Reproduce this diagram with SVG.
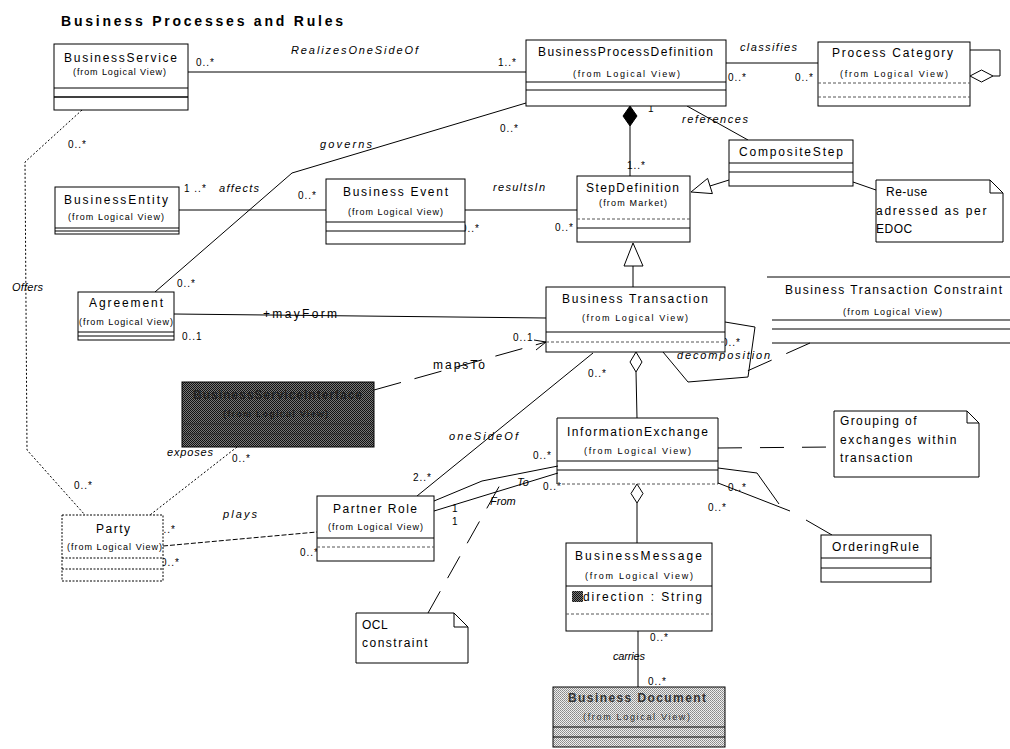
<svg xmlns="http://www.w3.org/2000/svg" width="1010" height="749" viewBox="0 0 1010 749">
  <style>
    .box { fill: #fff; stroke: #000; stroke-width: 1; }
    .sep { stroke: #000; stroke-width: 1; fill: none; }
    .dsep { stroke: #555; stroke-width: 1; stroke-dasharray: 3 2; fill: none; }
    .line { stroke: #000; stroke-width: 1; fill: none; }
    .dot { stroke: #000; stroke-width: 1; fill: none; stroke-dasharray: 2 2; }
    .dash { stroke: #000; stroke-width: 1; fill: none; stroke-dasharray: 5 2; }
    .anchor { stroke: #000; stroke-width: 1; fill: none; stroke-dasharray: 24 18; }
    text { font-family: "Liberation Sans", Arial, sans-serif; fill: #000; }
    .title { font-size: 14px; font-weight: bold; }
    .name { font-size: 12px; }
    .from { font-size: 9px; }
    .role { font-size: 11px; font-style: italic; }
    .mult { font-size: 10px; letter-spacing: 1px; }
    .note { font-size: 12px; letter-spacing: 0.5px; }
  </style>
  <defs>
    <pattern id="hatchDark" width="2" height="2" patternUnits="userSpaceOnUse">
      <rect width="2" height="2" fill="#777"/>
      <rect width="1" height="1" fill="#111"/>
      <rect x="1" y="1" width="1" height="1" fill="#111"/>
    </pattern>
    <pattern id="hatchLight" width="2" height="2" patternUnits="userSpaceOnUse">
      <rect width="2" height="2" fill="#eee"/>
      <rect width="1" height="1" fill="#888"/>
      <rect x="1" y="1" width="1" height="1" fill="#999"/>
    </pattern>
  </defs>

  <rect width="1010" height="749" fill="#fff"/>

  <text class="title" x="61" y="26" textLength="282" lengthAdjust="spacing">Business Processes and Rules</text>

  <!-- associations, generalizations and note anchors -->
  <g id="connectors">
    <line class="line" x1="188" y1="72" x2="526" y2="72"/>
    <line class="line" x1="726" y1="63" x2="818" y2="63"/>
    <polyline class="line" points="970,50 1000,50 1000,76 993,76"/>
    <polygon points="970,76 981.5,70 993,76 981.5,82" fill="#fff" stroke="#000"/>
    <line class="line" x1="630" y1="126" x2="630" y2="176"/>
    <polygon points="630,106 637,116 630,126 623,116" fill="#000" stroke="#000"/>
    <line class="line" x1="687" y1="106" x2="748" y2="140"/>
    <polyline class="line" points="526,103 292,173 155,292"/>
    <line class="line" x1="853" y1="182" x2="876" y2="190"/>
    <line class="line" x1="729" y1="180" x2="710" y2="186"/>
    <polygon points="691,192 707.6,178.4 712.4,193.6" fill="#fff" stroke="#000"/>
    <line class="line" x1="633" y1="266" x2="633" y2="287"/>
    <polygon points="633,243 624,266 643,266" fill="#fff" stroke="#000"/>
    <line class="line" x1="179" y1="210" x2="326" y2="210"/>
    <line class="line" x1="465" y1="210" x2="577" y2="210"/>
    <line class="line" x1="174" y1="314" x2="546" y2="318"/>
    <polyline class="line" points="725,322 755,327 748,377 688,382 663,352"/>
    <line class="anchor" x1="810" y1="343" x2="745" y2="372" style="stroke-dasharray:26 16"/>
    <line class="line" x1="374" y1="390" x2="546" y2="342" style="stroke-dasharray:28 14"/>
    <polyline class="line" points="534,340 546,342 536,350"/>
    <line class="dot" x1="237" y1="447" x2="150" y2="515"/>
    <polyline class="dot" points="82,110 25,162 27,450 85,515"/>
    <line class="line" x1="593" y1="353" x2="417" y2="496"/>
    <line class="line" x1="636" y1="372" x2="637" y2="418"/>
    <polygon points="636,352 642,362 636,372 630,362" fill="#fff" stroke="#000"/>
    <line class="anchor" x1="718" y1="448" x2="834" y2="447"/>
    <polyline class="line" points="434,501 482,481 558,466"/>
    <line class="line" x1="434" y1="511" x2="558" y2="473"/>
    <line class="line" x1="428" y1="613" x2="505" y2="476" style="stroke-dasharray:25 15"/>
    <line class="dash" x1="163" y1="546" x2="317" y2="532"/>
    <polyline class="line" points="718,468 757,473 779,504"/>
    <line class="line" x1="718" y1="483" x2="790" y2="511"/>
    <line class="line" x1="806" y1="520" x2="832" y2="535"/>
    <line class="line" x1="637" y1="503" x2="637" y2="543"/>
    <polygon points="637,484 643,493.5 637,503 631,493.5" fill="#fff" stroke="#000"/>
    <line class="line" x1="638" y1="631" x2="638" y2="687"/>
  </g>

  <!-- association labels and multiplicities -->
  <g id="labels">
    <text class="mult" x="196" y="66">0..*</text>
    <text class="role" x="291" y="54" textLength="127" lengthAdjust="spacing">RealizesOneSideOf</text>
    <text class="mult" x="498" y="66">1..*</text>
    <text class="role" x="740" y="51" textLength="57" lengthAdjust="spacing">classifies</text>
    <text class="mult" x="728" y="81">0..*</text>
    <text class="mult" x="795" y="81">0..*</text>
    <text class="mult" x="648" y="112">1</text>
    <text class="role" x="682" y="123" textLength="66" lengthAdjust="spacing">references</text>
    <text class="mult" x="500" y="132">0..*</text>
    <text class="role" x="320" y="148" textLength="52" lengthAdjust="spacing">governs</text>
    <text class="mult" x="68" y="148">0..*</text>
    <text class="mult" x="184" y="192">1 ..*</text>
    <text class="role" x="219" y="192" textLength="40" lengthAdjust="spacing">affects</text>
    <text class="mult" x="298" y="199">0..*</text>
    <text class="role" x="493" y="191" textLength="52" lengthAdjust="spacing">resultsIn</text>
    <text class="mult" x="461" y="232">0..*</text>
    <text class="mult" x="555" y="231">0..*</text>
    <text class="mult" x="627" y="169">1..*</text>
    <text class="role" x="12" y="291" textLength="31" lengthAdjust="spacing">Offers</text>
    <text class="mult" x="177" y="287">0..*</text>
    <text class="mult" x="182" y="340">0..1</text>
    <text class="name" x="263" y="318" textLength="74" lengthAdjust="spacing">+mayForm</text>
    <text class="mult" x="513" y="341">0..1</text>
    <text class="mult" x="671" y="346">0..*</text>
    <text class="mult" x="722" y="346">0..*</text>
    <text class="role" x="677" y="359" textLength="93" lengthAdjust="spacing">decomposition</text>
    <text class="name" x="433" y="369" textLength="52" lengthAdjust="spacing">mapsTo</text>
    <text class="mult" x="588" y="377">0..*</text>
    <text class="role" x="449" y="440" textLength="69" lengthAdjust="spacing">oneSideOf</text>
    <text class="role" x="167" y="456" textLength="46" lengthAdjust="spacing">exposes</text>
    <text class="mult" x="232" y="462">0..*</text>
    <text class="mult" x="74" y="489">0..*</text>
    <text class="mult" x="413" y="481">2..*</text>
    <text class="role" x="223" y="518" textLength="34" lengthAdjust="spacing">plays</text>
    <text class="mult" x="157" y="533">0..*</text>
    <text class="mult" x="161" y="566">0..*</text>
    <text class="mult" x="300" y="556">0..*</text>
    <text class="mult" x="452" y="512">1</text>
    <text class="mult" x="452" y="525">1</text>
    <text class="role" x="517" y="486">To</text>
    <text class="role" x="490" y="505">From</text>
    <text class="mult" x="533" y="459">0..*</text>
    <text class="mult" x="543" y="490">0..*</text>
    <text class="mult" x="728" y="491">0..*</text>
    <text class="mult" x="708" y="511">0..*</text>
    <text class="mult" x="650" y="641">0..*</text>
    <text class="role" x="613" y="660" textLength="32" lengthAdjust="spacing">carries</text>
    <text class="mult" x="648" y="685">0..*</text>
  </g>

  <g id="BusinessService">
    <rect class="box" x="54" y="44" width="134" height="66"/>
    <text class="name" x="64" y="62" textLength="113" lengthAdjust="spacing">BusinessService</text>
    <text class="from" x="73" y="75" textLength="93" lengthAdjust="spacing">(from Logical View)</text>
    <line class="sep" x1="54" y1="88" x2="188" y2="88"/>
    <line class="sep" x1="54" y1="97" x2="188" y2="97" style="stroke-width:1.5"/>
  </g>

  <g id="BusinessProcessDefinition">
    <rect class="box" x="526" y="40" width="200" height="66"/>
    <text class="name" x="538" y="56" textLength="175" lengthAdjust="spacing">BusinessProcessDefinition</text>
    <text class="from" x="573" y="77" textLength="107" lengthAdjust="spacing">(from Logical View)</text>
    <line class="sep" x1="526" y1="82" x2="726" y2="82"/>
    <line class="sep" x1="526" y1="90" x2="726" y2="90"/>
  </g>

  <g id="ProcessCategory">
    <rect class="box" x="818" y="42" width="152" height="64"/>
    <text class="name" x="832" y="57" textLength="121" lengthAdjust="spacing">Process Category</text>
    <text class="from" x="840" y="77" textLength="108" lengthAdjust="spacing">(from Logical View)</text>
    <line class="dsep" x1="818" y1="83" x2="970" y2="83"/>
    <line class="dsep" x1="818" y1="97" x2="970" y2="97"/>
  </g>

  <g id="CompositeStep">
    <rect class="box" x="729" y="140" width="124" height="46"/>
    <text class="name" x="739" y="156" textLength="104" lengthAdjust="spacing">CompositeStep</text>
    <line class="sep" x1="729" y1="163" x2="853" y2="163"/>
    <line class="sep" x1="729" y1="172" x2="853" y2="172"/>
  </g>

  <g id="NoteReuse">
    <path class="box" d="M876,180 H990 L1003,193 V242 H876 Z"/>
    <path class="sep" d="M990,180 V193 H1003"/>
    <text class="note" x="886" y="196">Re-use</text>
    <text class="note" x="876" y="215" textLength="111" lengthAdjust="spacing">adressed as per</text>
    <text class="note" x="876" y="233">EDOC</text>
  </g>

  <g id="BusinessEntity">
    <rect class="box" x="55" y="187" width="124" height="47"/>
    <text class="name" x="64" y="204" textLength="104" lengthAdjust="spacing">BusinessEntity</text>
    <text class="from" x="68" y="220" textLength="96" lengthAdjust="spacing">(from Logical View)</text>
    <line class="sep" x1="55" y1="228" x2="179" y2="228"/>
    <line class="sep" x1="55" y1="231" x2="179" y2="231"/>
  </g>

  <g id="BusinessEvent">
    <rect class="box" x="326" y="179" width="139" height="65"/>
    <text class="name" x="343" y="196" textLength="105" lengthAdjust="spacing">Business Event</text>
    <text class="from" x="348" y="215" textLength="95" lengthAdjust="spacing">(from Logical View)</text>
    <line class="sep" x1="326" y1="222" x2="465" y2="222"/>
    <line class="sep" x1="326" y1="231" x2="465" y2="231"/>
  </g>

  <g id="StepDefinition">
    <rect class="box" x="577" y="176" width="113" height="66"/>
    <text class="name" x="586" y="192" textLength="93" lengthAdjust="spacing">StepDefinition</text>
    <text class="from" x="599" y="206" textLength="68" lengthAdjust="spacing">(from Market)</text>
    <line class="dsep" x1="577" y1="219" x2="690" y2="219"/>
    <line class="sep" x1="577" y1="228" x2="690" y2="228"/>
  </g>

  <g id="Agreement">
    <rect class="box" x="78" y="292" width="96" height="48"/>
    <text class="name" x="89" y="307" textLength="74" lengthAdjust="spacing">Agreement</text>
    <text class="from" x="79" y="325" textLength="94" lengthAdjust="spacing">(from Logical View)</text>
    <line class="sep" x1="78" y1="332" x2="174" y2="332"/>
    <line class="sep" x1="78" y1="336" x2="174" y2="336"/>
  </g>

  <g id="BusinessTransaction">
    <rect class="box" x="546" y="287" width="179" height="65"/>
    <text class="name" x="562" y="303" textLength="146" lengthAdjust="spacing">Business Transaction</text>
    <text class="from" x="582" y="321" textLength="106" lengthAdjust="spacing">(from Logical View)</text>
    <line class="sep" x1="546" y1="332" x2="725" y2="332"/>
    <line class="dsep" x1="546" y1="342" x2="725" y2="342"/>
  </g>

  <g id="BusinessTransactionConstraint">
    <line class="sep" x1="767" y1="277" x2="1010" y2="277"/>
    <text class="name" x="785" y="294" textLength="217" lengthAdjust="spacing">Business Transaction Constraint</text>
    <text class="from" x="843" y="315" textLength="99" lengthAdjust="spacing">(from Logical View)</text>
    <line class="sep" x1="772" y1="320" x2="1010" y2="320"/>
    <line class="sep" x1="772" y1="329" x2="1010" y2="329"/>
    <line class="sep" x1="772" y1="343" x2="1010" y2="343"/>
  </g>

  <g id="BusinessServiceInterface">
    <rect x="182" y="382" width="192" height="65" fill="url(#hatchDark)" stroke="#000"/>
    <text class="name" x="193" y="399" textLength="169" lengthAdjust="spacing" style="font-weight:bold;fill:#222">BusinessServiceInterface</text>
    <text class="from" x="223" y="417" textLength="105" lengthAdjust="spacing" style="font-weight:bold;fill:#222">(from Logical View)</text>
    <line class="sep" x1="182" y1="424" x2="374" y2="424" style="stroke:#333"/>
    <line class="sep" x1="182" y1="434" x2="374" y2="434" style="stroke:#333"/>
  </g>

  <g id="InformationExchange">
    <path class="sep" d="M557,484 V418 H718 V484" fill="#fff"/>
    <line class="dsep" x1="557" y1="484" x2="718" y2="484"/>
    <text class="name" x="567" y="436" textLength="141" lengthAdjust="spacing">InformationExchange</text>
    <text class="from" x="584" y="454" textLength="107" lengthAdjust="spacing">(from Logical View)</text>
    <line class="sep" x1="557" y1="461" x2="718" y2="461"/>
    <line class="sep" x1="557" y1="470" x2="718" y2="470"/>
  </g>

  <g id="NoteGrouping">
    <path class="box" d="M834,411 H967 L979,423 V477 H834 Z"/>
    <path class="sep" d="M967,411 V423 H979"/>
    <text class="note" x="840" y="425" textLength="77" lengthAdjust="spacing">Grouping of</text>
    <text class="note" x="840" y="444" textLength="117" lengthAdjust="spacing">exchanges within</text>
    <text class="note" x="840" y="462" textLength="73" lengthAdjust="spacing">transaction</text>
  </g>

  <g id="PartnerRole">
    <rect class="box" x="317" y="496" width="117" height="65"/>
    <text class="name" x="333" y="513" textLength="84" lengthAdjust="spacing">Partner Role</text>
    <text class="from" x="328" y="530" textLength="95" lengthAdjust="spacing">(from Logical View)</text>
    <line class="sep" x1="317" y1="538" x2="434" y2="538"/>
    <line class="dsep" x1="317" y1="547" x2="434" y2="547"/>
  </g>

  <g id="Party">
    <rect x="62" y="515" width="101" height="66" fill="#fff" stroke="#000" stroke-dasharray="2 1.5"/>
    <text class="name" x="96" y="533" textLength="34" lengthAdjust="spacing">Party</text>
    <text class="from" x="67" y="550" textLength="95" lengthAdjust="spacing">(from Logical View)</text>
    <line class="dot" x1="62" y1="558" x2="163" y2="558" style="stroke-dasharray:2 1.5"/>
    <line class="dot" x1="62" y1="569" x2="163" y2="569" style="stroke-dasharray:2 1.5"/>
  </g>

  <g id="OrderingRule">
    <rect class="box" x="821" y="535" width="110" height="47"/>
    <text class="name" x="832" y="551" textLength="87" lengthAdjust="spacing">OrderingRule</text>
    <line class="sep" x1="821" y1="558" x2="931" y2="558"/>
    <line class="sep" x1="821" y1="568" x2="931" y2="568"/>
  </g>

  <g id="BusinessMessage">
    <rect class="box" x="566" y="543" width="146" height="88"/>
    <text class="name" x="575" y="560" textLength="127" lengthAdjust="spacing">BusinessMessage</text>
    <text class="from" x="585" y="579" textLength="108" lengthAdjust="spacing">(from Logical View)</text>
    <line class="sep" x1="566" y1="586" x2="712" y2="586"/>
    <rect x="572" y="591" width="11" height="11" fill="url(#hatchDark)"/>
    <text class="name" x="583" y="601" textLength="119" lengthAdjust="spacing">direction : String</text>
    <line class="dsep" x1="566" y1="614" x2="712" y2="614"/>
  </g>

  <g id="NoteOCL">
    <path class="box" d="M356,613 H454 L468,627 V663 H356 Z"/>
    <path class="sep" d="M454,613 V627 H468"/>
    <text class="note" x="362" y="629">OCL</text>
    <text class="note" x="362" y="647" textLength="66" lengthAdjust="spacing">constraint</text>
  </g>

  <g id="BusinessDocument">
    <rect x="553" y="687" width="172" height="60" fill="url(#hatchLight)" stroke="#000"/>
    <text class="name" x="568" y="702" textLength="138" lengthAdjust="spacing" style="font-weight:bold;fill:#333">Business Document</text>
    <text class="from" x="583" y="720" textLength="107" lengthAdjust="spacing" style="fill:#333">(from Logical View)</text>
    <line class="sep" x1="553" y1="727" x2="725" y2="727"/>
    <line class="sep" x1="553" y1="737" x2="725" y2="737"/>
  </g>
</svg>
